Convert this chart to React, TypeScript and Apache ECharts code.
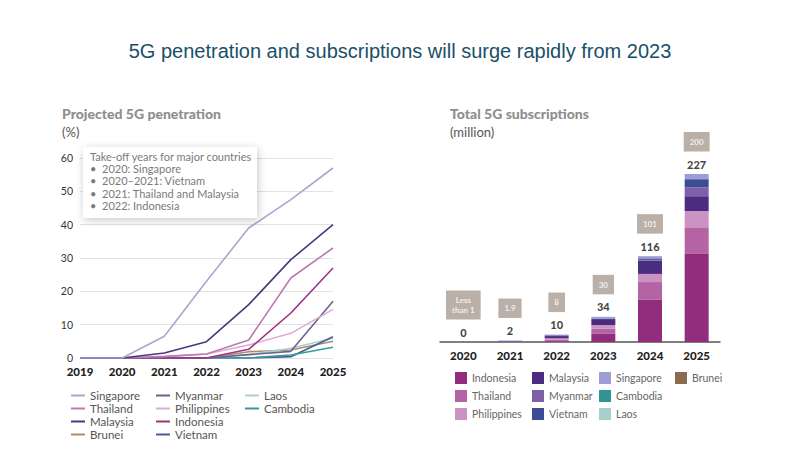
import React, { useEffect, useRef } from 'react';
import * as echarts from 'echarts';

// ---------- Left: projected 5G penetration (%) ----------
const penYears = ['2019', '2020', '2021', '2022', '2023', '2024', '2025'];
const penTicks = [0, 10, 20, 30, 40, 50, 60];
const penSingapore = [0, 0, 6.5, 23, 39, 47.5, 57];
const penThailand = [0, 0, 0.5, 1.2, 5.4, 24, 33];
const penMalaysia = [0, 0, 1.5, 4.9, 16, 29.5, 40];
const penBrunei = [0, 0, 0, 0, 1.9, 2.4, 5];
const penMyanmar = [0, 0, 0, 0, 1, 2, 17];
const penPhilippines = [0, 0, 0.3, 1.2, 3.9, 7.4, 14.6];
const penIndonesia = [0, 0, 0, 0, 2.6, 13.5, 27];
const penVietnam = [0, 0, 0, 0, 0, 0.4, 6.4];
const penLaos = [0, 0, 0, 0, 1, 2.9, 5.9];
const penCambodia = [0, 0, 0, 0, 0, 0.9, 3.2];

// ---------- Right: total 5G subscriptions (million) ----------
const subYears = ['2020', '2021', '2022', '2023', '2024', '2025'];
const subIndonesia = [0, 0, 1, 11, 57, 119];
const subThailand = [0, 0, 2, 7, 24, 36];
const subPhilippines = [0, 0, 2, 5, 11, 22];
const subMalaysia = [0, 0.8, 3, 8, 18, 20];
const subMyanmar = [0, 0, 0, 0, 1, 12];
const subVietnam = [0, 0, 1, 0, 2, 11];
const subSingapore = [0, 1.2, 1, 3, 3, 7];
const subCambodia = [0, 0, 0, 0, 0, 0];
const subLaos = [0, 0, 0, 0, 0, 0];
const subBrunei = [0, 0, 0, 0, 0, 0];
const subTotals = [0, 2, 10, 34, 116, 227];
const subBoxLabels = ['Less\nthan 1', '1.9', '8', '30', '101', '200'];

const noteLines = [
  'Take-off years for major countries',
  '•  2020: Singapore',
  '•  2020–2021: Vietnam',
  '•  2021: Thailand and Malaysia',
  '•  2022: Indonesia',
];

const lineColors: Record<string, string> = {
  Singapore: '#aaa6d0',
  Thailand: '#b87cb2',
  Malaysia: '#463a7c',
  Brunei: '#a88e6e',
  Myanmar: '#6f6290',
  Philippines: '#d9aed0',
  Indonesia: '#a0317f',
  Vietnam: '#4c5b96',
  Laos: '#aad2cb',
  Cambodia: '#369b9a',
};

const barColors: Record<string, string> = {
  Indonesia: '#922c7d',
  Thailand: '#b463a3',
  Philippines: '#cc92c3',
  Malaysia: '#4a2c81',
  Myanmar: '#7d60a8',
  Vietnam: '#3d4c93',
  Singapore: '#9e9ed4',
  Cambodia: '#2f9594',
  Laos: '#a9cfcc',
  Brunei: '#8c6a4e',
};

const FONT = 'Lato, "Open Sans", sans-serif';

export default function App() {
  const ref = useRef<HTMLDivElement>(null);

  useEffect(() => {
    if (!ref.current) return;
    const chart = echarts.init(ref.current, null, { renderer: 'svg' });

    const lineData: [string, number[]][] = [
      ['Singapore', penSingapore],
      ['Thailand', penThailand],
      ['Malaysia', penMalaysia],
      ['Brunei', penBrunei],
      ['Myanmar', penMyanmar],
      ['Philippines', penPhilippines],
      ['Indonesia', penIndonesia],
      ['Vietnam', penVietnam],
      ['Laos', penLaos],
      ['Cambodia', penCambodia],
    ];
    const drawOrder = ['Brunei', 'Laos', 'Vietnam', 'Cambodia', 'Myanmar', 'Philippines', 'Indonesia', 'Thailand', 'Malaysia', 'Singapore'];
    const lineSeries = drawOrder.map((name, i) => ({
      type: 'line',
      name,
      xAxisIndex: 0,
      yAxisIndex: 0,
      data: (lineData.find((d) => d[0] === name) as [string, number[]])[1],
      showSymbol: false,
      symbol: 'none',
      z: 2 + i * 0.01,
      lineStyle: { color: lineColors[name], width: 1.6 },
      itemStyle: { color: lineColors[name] },
    }));

    const barData: [string, number[]][] = [
      ['Indonesia', subIndonesia],
      ['Thailand', subThailand],
      ['Philippines', subPhilippines],
      ['Malaysia', subMalaysia],
      ['Myanmar', subMyanmar],
      ['Vietnam', subVietnam],
      ['Singapore', subSingapore],
      ['Cambodia', subCambodia],
      ['Laos', subLaos],
      ['Brunei', subBrunei],
    ];
    const barSeries = barData.map(([name, data]) => ({
      type: 'bar',
      name: 'b:' + name,
      xAxisIndex: 1,
      yAxisIndex: 1,
      stack: 'subs',
      barWidth: 24,
      data,
      itemStyle: { color: barColors[name] },
    }));

    const lineLegendBase = {
      orient: 'vertical',
      icon: 'rect',
      itemWidth: 14,
      itemHeight: 2,
      itemGap: 0,
      selectedMode: false,
      textStyle: { fontFamily: FONT, fontSize: 11.5, color: '#555', lineHeight: 13 },
    };
    const barLegendBase = {
      orient: 'vertical',
      icon: 'rect',
      itemWidth: 12,
      itemHeight: 12,
      itemGap: 6,
      selectedMode: false,
      formatter: (n: string) => n.replace('b:', ''),
      textStyle: { fontFamily: FONT, fontSize: 10.5, color: '#666', lineHeight: 12 },
    };

    const noteGraphics: any[] = noteLines.map((t, i) => ({
      type: 'text',
      left: 90,
      top: 151 + i * 12.2,
      z: 101,
      style: { text: t, fill: '#7a7a7a', font: `11px ${FONT}` },
    }));

    chart.setOption({
      animation: false,
      textStyle: { fontFamily: FONT },
      title: [
        {
          text: '5G penetration and subscriptions will surge rapidly from 2023',
          left: 'center',
          top: 36,
          textStyle: { fontFamily: '"Liberation Sans", Arial, sans-serif', fontSize: 20, fontWeight: 'normal', color: '#1a5068' },
        },
      ],
      graphic: [
        { type: 'text', left: 62, top: 106, style: { text: 'Projected 5G penetration', fill: '#8e8e8e', font: `900 14px ${FONT}` } },
        { type: 'text', left: 62, top: 125, style: { text: '(%)', fill: '#555', font: `13px ${FONT}` } },
        { type: 'text', left: 450, top: 106, style: { text: 'Total 5G subscriptions', fill: '#8e8e8e', font: `900 14px ${FONT}` } },
        { type: 'text', left: 450, top: 125, style: { text: '(million)', fill: '#555', font: `13px ${FONT}` } },
        {
          type: 'rect',
          left: 83,
          top: 147,
          z: 100,
          shape: { width: 174, height: 71 },
          style: { fill: '#fff', shadowBlur: 8, shadowColor: 'rgba(0,0,0,0.22)', shadowOffsetX: 1, shadowOffsetY: 2 },
        },
        ...noteGraphics,
      ],
      legend: [
        { ...lineLegendBase, left: 66, top: 384, data: ['Singapore', 'Thailand', 'Malaysia', 'Brunei'] },
        { ...lineLegendBase, left: 151, top: 384, data: ['Myanmar', 'Philippines', 'Indonesia', 'Vietnam'] },
        { ...lineLegendBase, left: 240, top: 384, data: ['Laos', 'Cambodia'] },
        { ...barLegendBase, left: 450, top: 367, data: ['b:Indonesia', 'b:Thailand', 'b:Philippines'] },
        { ...barLegendBase, left: 527, top: 367, data: ['b:Malaysia', 'b:Myanmar', 'b:Vietnam'] },
        { ...barLegendBase, left: 594, top: 367, data: ['b:Singapore', 'b:Cambodia', 'b:Laos'] },
        { ...barLegendBase, left: 670, top: 367, data: ['b:Brunei'] },
      ],
      grid: [
        { left: 80, right: 467, top: 158, bottom: 91 },
        { left: 440, right: 80, top: 157, bottom: 107 },
      ],
      xAxis: [
        {
          gridIndex: 0,
          type: 'category',
          data: penYears,
          boundaryGap: false,
          axisLine: { show: false },
          axisTick: { show: false },
          axisLabel: { fontFamily: FONT, fontWeight: 900, fontSize: 11.5, color: '#222', margin: 7 },
        },
        {
          gridIndex: 1,
          type: 'category',
          data: subYears,
          axisLine: { show: true, lineStyle: { color: '#555', width: 1.5 } },
          axisTick: { show: false },
          axisLabel: { fontFamily: FONT, fontWeight: 900, fontSize: 11.5, color: '#222', margin: 7 },
        },
      ],
      yAxis: [
        {
          gridIndex: 0,
          type: 'value',
          min: penTicks[0],
          max: penTicks[penTicks.length - 1],
          interval: 10,
          axisLine: { show: false },
          axisTick: { show: false },
          axisLabel: { fontFamily: FONT, fontSize: 10.5, color: '#333', margin: 7 },
          splitLine: { lineStyle: { color: '#e2e2e2', width: 1 } },
        },
        {
          gridIndex: 1,
          type: 'value',
          min: 0,
          max: 250,
          show: false,
          splitLine: { show: false },
        },
      ],
      series: [
        ...lineSeries,
        ...barSeries,
        {
          type: 'scatter',
          name: 'totals',
          xAxisIndex: 1,
          yAxisIndex: 1,
          data: subTotals,
          symbolSize: 1,
          itemStyle: { color: 'rgba(0,0,0,0)' },
          label: {
            show: true,
            position: 'top',
            distance: 4,
            formatter: (p: any) => String(subTotals[p.dataIndex]),
            fontFamily: FONT,
            fontWeight: 900,
            fontSize: 11,
            color: '#111',
          },
          z: 5,
        },
        {
          type: 'scatter',
          name: 'boxes',
          xAxisIndex: 1,
          yAxisIndex: 1,
          data: subTotals,
          symbolSize: 1,
          itemStyle: { color: 'rgba(0,0,0,0)' },
          label: {
            show: true,
            position: 'top',
            distance: 22,
            formatter: (p: any) => subBoxLabels[p.dataIndex],
            fontFamily: FONT,
            fontWeight: 'bold',
            fontSize: 8,
            lineHeight: 9.5,
            align: 'center',
            color: '#fff',
            backgroundColor: '#a99c92',
            padding: [5, 6],
          },
          z: 5,
        },
      ],
    });

    return () => chart.dispose();
  }, []);

  return <div ref={ref} style={{ width: 800, height: 449, margin: -8 }} />;
}
